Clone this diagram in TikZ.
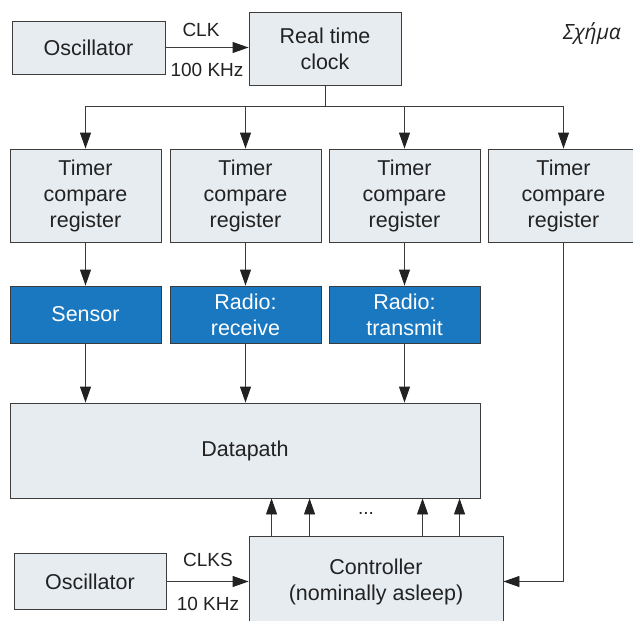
\documentclass[tikz,border=0pt]{standalone}
\usepackage{fontspec}
\setmainfont{Liberation Sans}
\newfontfamily\greekfont{Open Sans}
\usetikzlibrary{arrows.meta}
\definecolor{boxfill}{HTML}{E7ECF1}
\definecolor{boxblue}{HTML}{1A78C0}
\definecolor{edge}{HTML}{3C3C3C}
\definecolor{ink}{HTML}{222222}
\begin{document}
\begin{tikzpicture}[x=1pt,y=-1pt,
  lbox/.style={draw=edge, fill=boxfill, line width=0.9pt, inner sep=0pt, align=center,
    font=\fontsize{21.5}{26}\selectfont, text=ink},
  bbox/.style={lbox, fill=boxblue, text=white},
  conn/.style={draw=edge, line width=0.9pt, -{Triangle[length=16pt,width=11pt,color=ink]}},
  wire/.style={draw=edge, line width=0.9pt},
  lab/.style={font=\fontsize{19}{22}\selectfont, text=ink, inner sep=0pt}]
\clip (0,0) rectangle (633,621);
\fill[white] (0,0) rectangle (633,621);
% top row
\node[lbox, minimum width=153pt, minimum height=53pt] (osc1) at (88.5,47.5) {Oscillator};
\node[lbox, minimum width=152pt, minimum height=73pt] (rtc) at (325,48.5) {Real time\\clock};
\node[lab] (clk) at (201,30) {CLK};
\node[lab] (f1) at (207,70) {100 KHz};
\node[font=\greekfont\itshape\fontsize{21}{24}\selectfont, text=ink, inner sep=0pt] (title) at (592,34) {Σχήμα};
% timers
\foreach \i/\cx in {1/85.5,2/245.5,3/404.5,4/563.5}{
  \node[lbox, minimum width=151pt, minimum height=93pt] (t\i) at (\cx,195.5) {Timer\\compare\\register};
}
% blue units
\node[bbox, minimum width=151pt, minimum height=57pt] (sen) at (85.5,314.5) {Sensor};
\node[bbox, minimum width=151pt, minimum height=57pt] (rx) at (245.5,314.5) {Radio:\\receive};
\node[bbox, minimum width=151pt, minimum height=57pt] (tx) at (404.5,314.5) {Radio:\\transmit};
% datapath
\node[lbox, minimum width=470pt, minimum height=95pt] (dp) at (245,450.5) {Datapath};
% controller
\node[lbox, minimum width=254pt, minimum height=91pt] (ctrl) at (376,581.5) {Controller\\(nominally asleep)};
\node[lbox, minimum width=152pt, minimum height=56pt] (osc2) at (90,581.5) {Oscillator};
\node[lab] (clks) at (208,560) {CLKS};
\node[lab] (f2) at (208,604) {10 KHz};
\node[lab] (dots) at (366,513) {...};
% connectors
\draw[conn] (osc1.east) -- (osc1.east -| rtc.west);
\draw[wire] (rtc.south) -- ++(0,21) coordinate (bus);
\draw[wire] (bus -| t1.north) -- (bus -| t4.north);
\foreach \i in {1,2,3,4}{\draw[conn] (bus -| t\i.north) -- (t\i.north);}
\draw[conn] (t1.south) -- (sen.north);
\draw[conn] (t2.south) -- (rx.north);
\draw[conn] (t3.south) -- (tx.north);
\draw[conn] (sen.south) -- (sen.south |- dp.north);
\draw[conn] (rx.south) -- (rx.south |- dp.north);
\draw[conn] (tx.south) -- (tx.south |- dp.north);
\draw[conn] (t4.south) |- (ctrl.east);
\draw[conn] (osc2.east) -- (osc2.east -| ctrl.west);
\foreach \dx in {23,61,174,211}{
  \draw[conn] ([xshift=\dx pt]ctrl.north west) -- ([xshift=\dx pt]ctrl.north west |- dp.south);
}
\end{tikzpicture}
\end{document}
